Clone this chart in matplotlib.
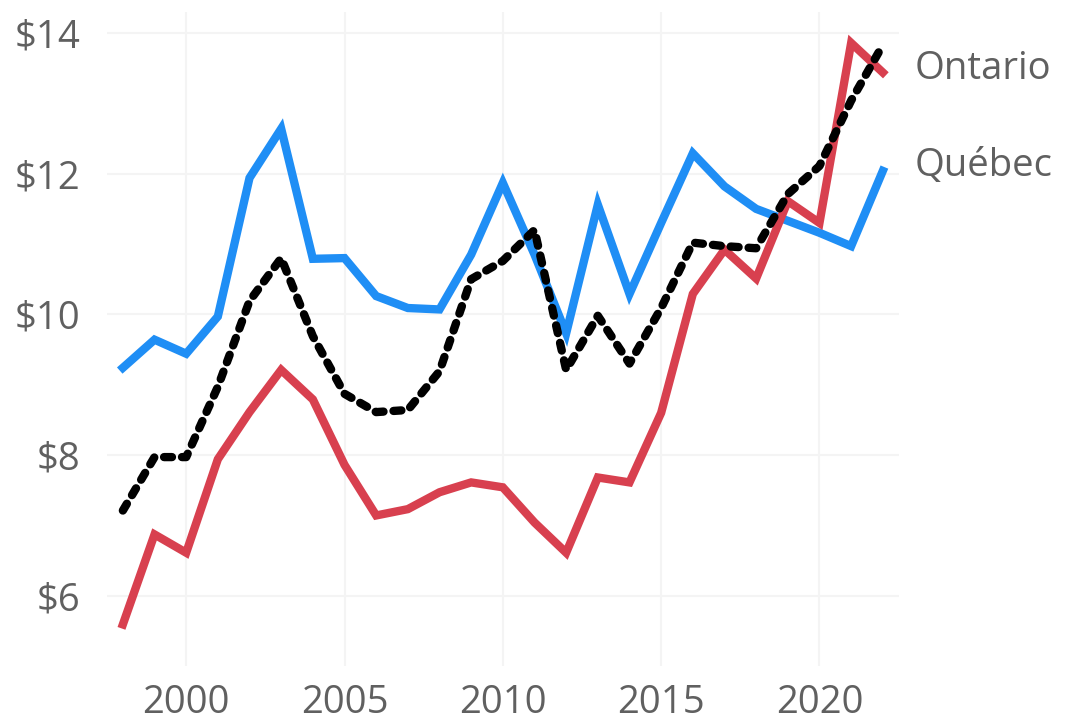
import matplotlib
matplotlib.use("Agg")
import matplotlib.pyplot as plt
from matplotlib.ticker import FuncFormatter

plt.rcParams["font.family"] = ["Open Sans", "DejaVu Sans"]

# =========================
# Data
# =========================
years = list(range(1998, 2023))

ontario = [5.59, 6.87, 6.61, 7.94, 8.61, 9.21, 8.79, 7.86, 7.14, 7.23,
           7.47, 7.61, 7.54, 7.04, 6.61, 7.68, 7.61, 8.60, 10.29, 10.92,
           10.51, 11.61, 11.30, 13.86, 13.44]

quebec = [9.24, 9.64, 9.44, 9.97, 11.94, 12.64, 10.79, 10.80, 10.26, 10.09,
          10.07, 10.85, 11.87, 10.85, 9.73, 11.56, 10.29, 11.30, 12.29, 11.82,
          11.50, 11.33, 11.16, 10.97, 12.04]

canada = [7.21, 7.97, 7.97, 8.97, 10.19, 10.80, 9.69, 8.87, 8.61, 8.64,
          9.19, 10.50, 10.76, 11.20, 9.21, 9.98, 9.30, 10.09, 11.02, 10.97,
          10.94, 11.71, 12.11, 13.04, 13.83]

y_ticks = [6, 8, 10, 12, 14]
x_ticks = [2000, 2005, 2010, 2015, 2020]

red = "#d8404f"
blue = "#1f8ef5"
gray = "#606060"

# =========================
# Plot
# =========================
fig = plt.figure(figsize=(10.66, 7.27), dpi=100)
ax = fig.add_axes([0.1004, 0.084, 0.7426, 0.8995])

ax.plot(years, quebec, color=blue, lw=6, solid_joinstyle="miter", zorder=3)
ax.plot(years, ontario, color=red, lw=6, solid_joinstyle="miter", zorder=4)
ax.plot(years, canada, color="black", lw=6, dashes=(0.95, 1.2),
        dash_capstyle="round", zorder=5)

ax.text(years[-1] + 1.0, ontario[-1] + 0.05, "Ontario", color=gray,
        fontsize=27.5, va="center", ha="left")
ax.text(years[-1] + 1.0, quebec[-1] + 0.07, "Québec", color=gray,
        fontsize=27.5, va="center", ha="left")

ax.set_xlim(1997.5, 2022.5)
ax.set_ylim(5.0, 14.3)
ax.set_xticks(x_ticks)
ax.set_yticks(y_ticks)
ax.yaxis.set_major_formatter(FuncFormatter(lambda v, p: f"${v:.0f}"))

ax.grid(True, color="#f4f4f4", lw=1.5, zorder=0)
for s in ax.spines.values():
    s.set_visible(False)
ax.tick_params(length=0, labelsize=27.5, labelcolor=gray)
ax.tick_params(axis="x", pad=13)
ax.tick_params(axis="y", pad=19)

fig.savefig("out.png", dpi=100, facecolor="white")
